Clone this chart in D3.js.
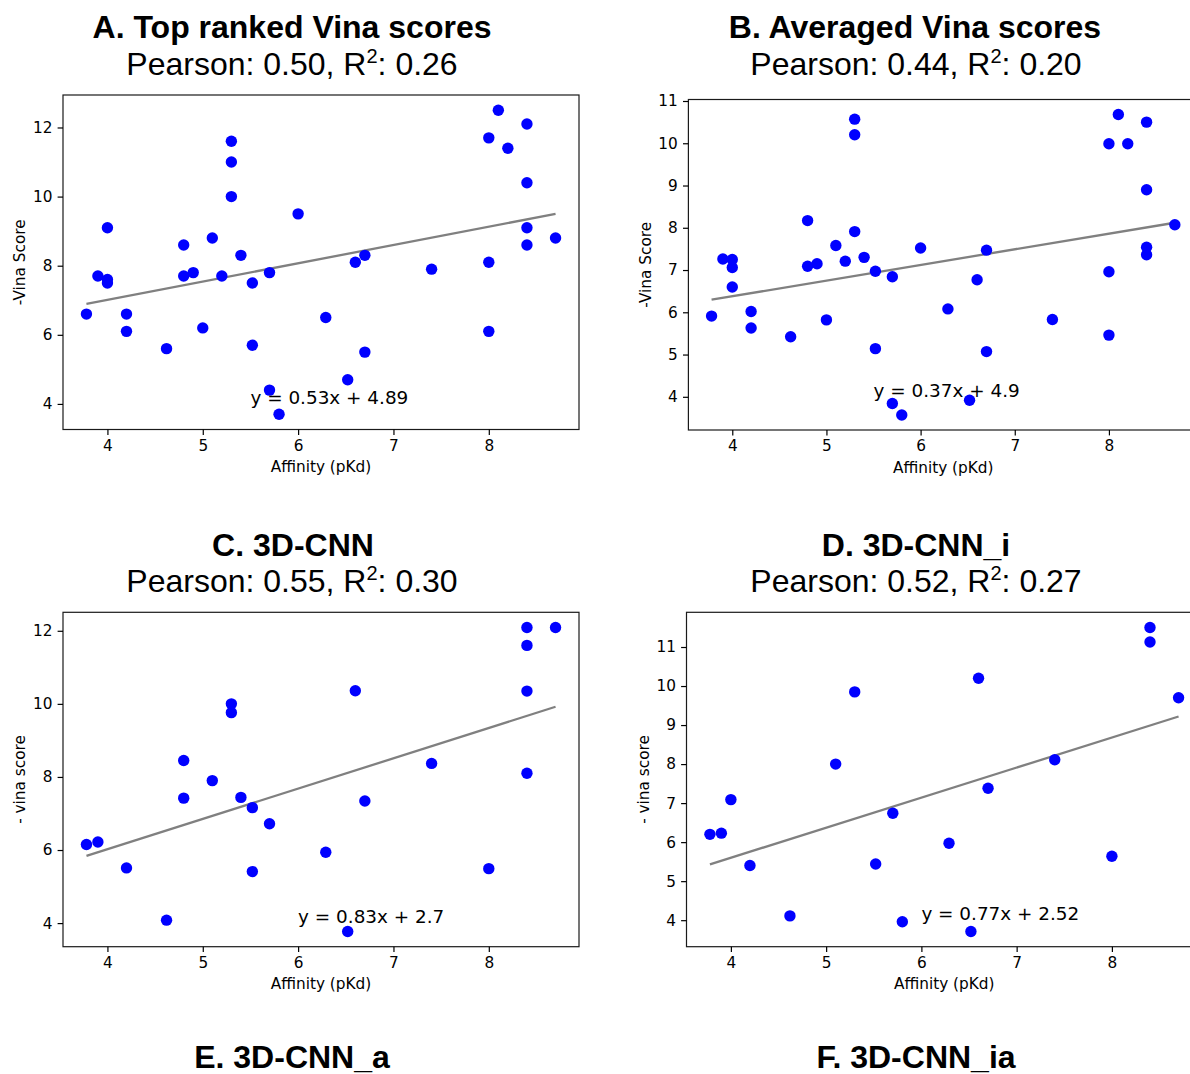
<!DOCTYPE html>
<html>
<head>
<meta charset="utf-8">
<script src="https://cdn.jsdelivr.net/npm/d3@7"></script>
<style>
  body { margin: 0; background: #fff; }
  svg { display: block; }
</style>
</head>
<body>
<svg id="fig" width="1190" height="1074"></svg>
<script>
// ---- data ----
// binding affinities (pKd) of the complexes scored in panels A and B
const affinityAB = [3.78, 3.9, 4.0, 4.0, 4.0, 4.2, 4.2, 4.62, 4.8, 4.8, 4.9, 5.0, 5.1, 5.2,
  5.3, 5.3, 5.3, 5.4, 5.52, 5.52, 5.7, 5.7, 5.8, 6.0, 6.29, 6.52, 6.6, 6.7, 6.7, 7.4,
  8.0, 8.0, 8.0, 8.1, 8.2, 8.4, 8.4, 8.4, 8.4, 8.7];
const topRankedScores = [6.6, 7.7, 9.1, 7.6, 7.5, 6.6, 6.1, 5.6, 8.6, 7.7, 7.8, 6.2, 8.8, 7.7,
  11.6, 11.0, 10.0, 8.3, 7.5, 5.7, 7.8, 4.4, 3.7, 9.5, 6.5, 4.7, 8.1, 8.3, 5.5, 7.9,
  11.7, 8.1, 6.1, 12.5, 11.4, 12.1, 10.4, 9.1, 8.6, 8.8];
const averagedScores = [5.91, 7.26, 7.25, 7.06, 6.6, 6.02, 5.63, 5.42, 8.17, 7.09, 7.15, 5.82, 7.58, 7.21,
  10.57, 10.2, 7.91, 7.3, 6.97, 5.14, 6.84, 3.84, 3.57, 7.52, 6.08, 3.92, 6.77, 7.47, 5.07, 5.83,
  9.99, 6.96, 5.46, 10.68, 9.99, 10.5, 8.9, 7.54, 7.36, 8.07];

const affinityC = [3.78, 3.9, 4.2, 4.62, 4.8, 4.8, 5.1, 5.3, 5.3, 5.4, 5.52, 5.52, 5.7,
  6.29, 6.52, 6.6, 6.7, 7.4, 8.0, 8.4, 8.4, 8.4, 8.4, 8.7];
const cnnScores = [6.15, 6.22, 5.51, 4.08, 8.45, 7.42, 7.9, 10.0, 9.76, 7.44, 7.16, 5.41, 6.72,
  5.94, 3.77, 10.36, 7.34, 8.37, 5.49, 12.09, 11.6, 10.35, 8.1, 12.09];

const affinityD = [3.78, 3.9, 4.0, 4.2, 4.62, 5.1, 5.3, 5.52, 5.7, 5.8,
  6.29, 6.52, 6.6, 6.7, 7.4, 8.0, 8.4, 8.4, 8.7];
const cnnIScores = [6.2, 6.23, 7.09, 5.4, 4.11, 8.0, 9.85, 5.44, 6.74, 3.96,
  5.97, 3.71, 10.2, 7.38, 8.11, 5.64, 11.5, 11.13, 9.7];

// fitted regression lines (slope, intercept)
const slopes = [0.53, 0.37, 0.83, 0.77];
const intercepts = [4.89, 4.9, 2.7, 2.52];

// correlation statistics
const pearsonValues = ["0.50", "0.44", "0.55", "0.52"];
const r2Values = ["0.26", "0.20", "0.30", "0.27"];

const titles = ["A. Top ranked Vina scores", "B. Averaged Vina scores",
  "C. 3D-CNN", "D. 3D-CNN_i", "E. 3D-CNN_a", "F. 3D-CNN_ia"];
const yLabels = ["-Vina Score", "-Vina Score", "- vina score", "- vina score"];
const xLabel = "Affinity (pKd)";

const xTicks = [4, 5, 6, 7, 8];
const yTicksA = [4, 6, 8, 10, 12];
const yTicksB = [4, 5, 6, 7, 8, 9, 10, 11];
const yTicksC = [4, 6, 8, 10, 12];
const yTicksD = [4, 5, 6, 7, 8, 9, 10, 11];

// ---- layout ----
const panels = [
  { xs: affinityAB, ys: topRankedScores, yTicks: yTicksA, left: 63, top: 95, right: 579, bottom: 429.5,
    ylabX: 24.5, eqAt: [5.5, 4] },
  { xs: affinityAB, ys: averagedScores, yTicks: yTicksB, left: 688.4, top: 99.5, right: 1198, bottom: 430,
    ylabX: 651, eqAt: [5.5, 4] },
  { xs: affinityC, ys: cnnScores, yTicks: yTicksC, left: 63, top: 612.3, right: 579, bottom: 946.7,
    ylabX: 25, eqAt: [6, 4] },
  { xs: affinityD, ys: cnnIScores, yTicks: yTicksD, left: 686.5, top: 612.3, right: 1202, bottom: 946.7,
    ylabX: 648.5, eqAt: [6, 4] }
];

// title block positions: [x center, baseline]
const titlePos = [[292, 38], [915, 38], [293, 556], [916, 556], [292, 1068], [916, 1068]];
const subPos = [[292, 75], [916, 75], [292, 592], [916, 592]];

const svg = d3.select("#fig");
svg.append("rect").attr("width", 1190).attr("height", 1074).attr("fill", "#fff");

const tickFont = "DejaVu Sans, sans-serif";
const tickSize = 15.3;

function padded(ext) {
  const m = (ext[1] - ext[0]) * 0.05;
  return [ext[0] - m, ext[1] + m];
}

panels.forEach((p, i) => {
  const x = d3.scaleLinear().domain(padded(d3.extent(p.xs))).range([p.left, p.right]);
  const y = d3.scaleLinear().domain(padded(d3.extent(p.ys))).range([p.bottom, p.top]);
  const g = svg.append("g");

  // regression line
  const xr = d3.extent(p.xs);
  const fit = v => slopes[i] * v + intercepts[i];
  g.append("line")
    .attr("x1", x(xr[0])).attr("y1", y(fit(xr[0])))
    .attr("x2", x(xr[1])).attr("y2", y(fit(xr[1])))
    .attr("stroke", "#808080").attr("stroke-width", 2.3);

  // scatter points
  g.selectAll("circle.pt").data(p.xs.map((v, k) => [v, p.ys[k]]))
    .enter().append("circle").attr("class", "pt")
    .attr("cx", d => x(d[0])).attr("cy", d => y(d[1]))
    .attr("r", 5.7).attr("fill", "#0000ff");

  // fit equation
  g.append("text")
    .attr("x", x(p.eqAt[0])).attr("y", y(p.eqAt[1]))
    .attr("font-family", tickFont).attr("font-size", 18.4).attr("fill", "#000")
    .text(`y = ${slopes[i]}x + ${intercepts[i]}`);

  // frame
  g.append("rect")
    .attr("x", p.left).attr("y", p.top)
    .attr("width", p.right - p.left).attr("height", p.bottom - p.top)
    .attr("fill", "none").attr("stroke", "#1a1a1a").attr("stroke-width", 1.2);

  // axes
  const ax = g.append("g").attr("transform", `translate(0,${p.bottom})`)
    .call(d3.axisBottom(x).tickValues(xTicks).tickSize(5.4).tickPadding(5.2).tickFormat(d3.format("d")));
  const ay = g.append("g").attr("transform", `translate(${p.left},0)`)
    .call(d3.axisLeft(y).tickValues(p.yTicks).tickSize(5.4).tickPadding(5.2).tickFormat(d3.format("d")));
  [ax, ay].forEach(a => {
    a.select(".domain").remove();
    a.selectAll("line").attr("stroke", "#000").attr("stroke-width", 1.2);
    a.selectAll("text").attr("font-family", tickFont).attr("font-size", tickSize).attr("fill", "#000");
  });

  // axis labels
  g.append("text")
    .attr("x", (p.left + p.right) / 2).attr("y", p.bottom + 42.5)
    .attr("text-anchor", "middle")
    .attr("font-family", tickFont).attr("font-size", tickSize).attr("fill", "#000")
    .text(xLabel);
  g.append("text")
    .attr("transform", `translate(${p.ylabX},${(p.top + p.bottom) / 2}) rotate(-90)`)
    .attr("text-anchor", "middle")
    .attr("font-family", tickFont).attr("font-size", tickSize).attr("fill", "#000")
    .text(yLabels[i]);
});

// panel titles
const headFont = "Liberation Sans, Arial, Helvetica, sans-serif";
titles.forEach((t, i) => {
  svg.append("text")
    .attr("x", titlePos[i][0]).attr("y", titlePos[i][1])
    .attr("text-anchor", "middle")
    .attr("font-family", headFont).attr("font-weight", "bold").attr("font-size", 32)
    .attr("fill", "#000").text(t);
});

// correlation subtitles
pearsonValues.forEach((pv, i) => {
  const t = svg.append("text")
    .attr("x", subPos[i][0]).attr("y", subPos[i][1])
    .attr("text-anchor", "middle")
    .attr("font-family", headFont).attr("font-size", 32).attr("fill", "#000");
  t.append("tspan").text(`Pearson: ${pv}, R`);
  t.append("tspan").attr("dy", -12).attr("font-size", 20).text("2");
  t.append("tspan").attr("dy", 12).text(`: ${r2Values[i]}`);
});
</script>
</body>
</html>
